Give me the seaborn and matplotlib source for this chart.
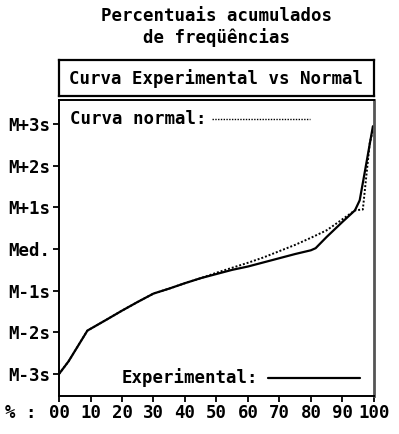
import numpy as np
import pandas as pd
import matplotlib
matplotlib.use("Agg")
import matplotlib.pyplot as plt
import seaborn as sns
from matplotlib.lines import Line2D

# data (percentiles vs. sigma position)
exp_x = [0, 3, 9, 15, 20, 25, 30, 35, 40, 45, 50, 55, 60, 65, 70, 75, 80, 81.5, 85, 90, 94, 95.5, 97, 99.7]
exp_y = [-3.0, -2.7, -1.96, -1.7, -1.48, -1.27, -1.07, -0.95, -0.82, -0.7, -0.6, -0.5, -0.42, -0.32,
         -0.22, -0.12, -0.03, 0.02, 0.29, 0.65, 0.93, 1.17, 1.8, 2.95]

norm_x = [0, 3, 9, 15, 20, 25, 30, 35, 40, 45, 50, 55, 60, 65, 70, 75, 80, 85, 89, 94, 96.5, 98.7, 99.7]
norm_y = [-3.0, -2.7, -1.96, -1.7, -1.48, -1.27, -1.07, -0.95, -0.82, -0.7, -0.57, -0.45, -0.33, -0.2,
          -0.05, 0.1, 0.27, 0.45, 0.66, 0.93, 0.95, 2.55, 2.85]

y_ticks = [3, 2, 1, 0, -1, -2, -3]
y_labels = ["M+3s", "M+2s", "M+1s", "Med.", "M-1s", "M-2s", "M-3s"]
x_ticks = [0, 10, 20, 30, 40, 50, 60, 70, 80, 90, 100]
x_labels = ["00", "10", "20", "30", "40", "50", "60", "70", "80", "90", "100"]

df_exp = pd.DataFrame({"x": exp_x, "y": exp_y})
df_norm = pd.DataFrame({"x": norm_x, "y": norm_y})

sns.set_style("white")
plt.rcParams["font.family"] = ["DejaVu Sans Mono"]
plt.rcParams["font.weight"] = "bold"
plt.rcParams["text.color"] = "black"
plt.rcParams["xtick.color"] = "black"
plt.rcParams["ytick.color"] = "black"

fig = plt.figure(figsize=(3.99, 4.34), dpi=100)

# title
fig.text(0.543, 0.938, "Percentuais acumulados\nde freqüências", ha="center", va="center",
         fontsize=12.5, linespacing=1.2)

# header box
hbox = fig.add_axes([0.148, 0.779, 0.789, 0.083])
hbox.set_xticks([])
hbox.set_yticks([])
for s in hbox.spines.values():
    s.set_linewidth(1.6)
    s.set_color("black")
hbox.text(0.5, 0.48, "Curva Experimental vs Normal", ha="center", va="center",
          fontsize=12.5, transform=hbox.transAxes)

# main plot
ax = fig.add_axes([0.148, 0.0876, 0.789, 0.682])
sns.lineplot(data=df_norm, x="x", y="y", ax=ax, sort=False, color="black",
             linestyle=(0, (1, 1)), linewidth=1.4)
sns.lineplot(data=df_exp, x="x", y="y", ax=ax, sort=False, color="black", linewidth=1.6)

ax.set_xlim(0, 100)
ax.set_ylim(-3.53, 3.58)
ax.set_xticks(x_ticks)
ax.set_xticklabels(x_labels, fontsize=12.5)
ax.set_yticks(y_ticks)
ax.set_yticklabels(y_labels, fontsize=12.5)
ax.set_xlabel("")
ax.set_ylabel("")
ax.tick_params(axis="both", direction="out", length=4, width=1.3, color="black", pad=2,
               left=True, bottom=True)
for k in ["left", "top", "bottom"]:
    ax.spines[k].set_color("black")
    ax.spines[k].set_linewidth(1.4)
ax.spines["right"].set_color("#555555")
ax.spines["right"].set_linewidth(2)

# in-plot legend texts
ax.text(0.035, 0.937, "Curva normal:", transform=ax.transAxes, ha="left", va="center", fontsize=12.5)
ax.add_line(Line2D([0.486, 0.797], [0.935, 0.935], transform=ax.transAxes, color="black",
                   linestyle=(0, (1, 1)), linewidth=1.0))
ax.text(0.20, 0.064, "Experimental:", transform=ax.transAxes, ha="left", va="center", fontsize=12.5)
ax.add_line(Line2D([0.663, 0.956], [0.062, 0.062], transform=ax.transAxes, color="black",
                   linewidth=1.6))

fig.text(0.012, 0.048, "% :", ha="left", va="center", fontsize=12.5)

fig.savefig("out.png", dpi=100)
